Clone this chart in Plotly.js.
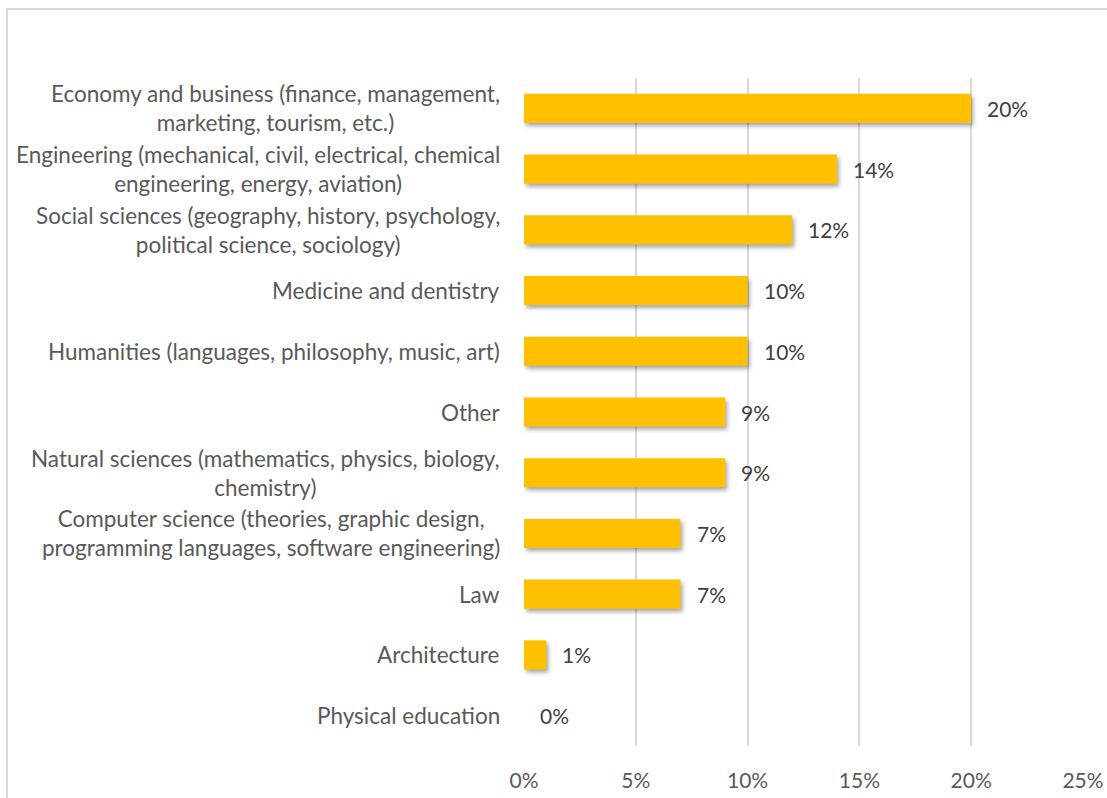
<!DOCTYPE html>
<html>
<head>
<meta charset="utf-8">
<script src="https://cdn.plot.ly/plotly-3.0.1.min.js"></script>
<style>
  html, body { margin: 0; padding: 0; background: #ffffff; }
  #wrap { position: relative; width: 1107px; height: 798px; overflow: hidden; }
  #frame { position: absolute; left: 6px; top: 8px; width: 1200px; height: 900px;
           border-left: 2px solid #d9d9d9; border-top: 2px solid #d9d9d9; }
  #chart { position: absolute; left: 0; top: 0; width: 1107px; height: 798px; }
  .trace.bars path { filter: drop-shadow(2px 3px 2px rgba(0,0,0,0.35)); }
</style>
</head>
<body>
<div id="wrap">
  <div id="frame"></div>
  <div id="chart"></div>
</div>
<script>
// Field of study, shares in percent (top to bottom as drawn)
const categories = [
  "Economy and business (finance, management,<br>marketing, tourism, etc.)",
  "Engineering (mechanical, civil, electrical, chemical<br>engineering, energy, aviation)",
  "Social sciences (geography, history, psychology,<br>political science, sociology)",
  "Medicine and dentistry",
  "Humanities (languages, philosophy, music, art)",
  "Other",
  "Natural sciences (mathematics, physics, biology,<br>chemistry)",
  "Computer science (theories, graphic design,<br>programming languages, software engineering)",
  "Law",
  "Architecture",
  "Physical education"
];
const shares = [20, 14, 12, 10, 10, 9, 9, 7, 7, 1, 0];
const xTickValues = [0, 5, 10, 15, 20, 25];
const xTickLabels = ["0%", "5%", "10%", "15%", "20%", "25%"];

const font = "Lato, 'Open Sans', sans-serif";

const bars = {
  type: "bar",
  orientation: "h",
  y: categories,
  x: shares,
  marker: { color: "#FFC000", line: { width: 0 } },
  hoverinfo: "skip"
};

// category labels: right-aligned blocks with centred lines
const catLabels = categories.map(c => ({
  xref: "paper", yref: "y",
  x: 0, y: c,
  xanchor: "right", yanchor: "middle",
  xshift: -22,
  align: "center",
  showarrow: false,
  text: c,
  font: { family: font, size: 22.5, color: "#595959" }
}));

// value labels beside each bar
const valueLabels = shares.map((v, i) => ({
  xref: "x", yref: "y",
  x: v, y: categories[i],
  xanchor: "left", yanchor: "middle",
  xshift: 14,
  showarrow: false,
  text: v + "%",
  font: { family: font, size: 21, color: "#404040" }
}));

const layout = {
  width: 1107,
  height: 798,
  margin: { l: 524, r: 24, t: 78, b: 52, pad: 0 },
  paper_bgcolor: "rgba(0,0,0,0)",
  plot_bgcolor: "rgba(0,0,0,0)",
  showlegend: false,
  bargap: 0.52,
  font: { family: font, size: 21, color: "#595959" },
  xaxis: {
    range: [0, 25],
    tickvals: xTickValues,
    ticktext: xTickLabels,
    showgrid: true,
    gridcolor: "#d9d9d9",
    gridwidth: 2,
    zeroline: false,
    showline: false,
    ticks: "",
    ticklabelstandoff: 20,
    tickfont: { family: font, size: 21, color: "#595959" },
    fixedrange: true
  },
  yaxis: {
    type: "category",
    autorange: "reversed",
    showticklabels: false,
    showgrid: false,
    zeroline: false,
    showline: false,
    ticks: "",
    fixedrange: true
  },
  annotations: catLabels.concat(valueLabels)
};

Plotly.newPlot("chart", [bars], layout, { displayModeBar: false, staticPlot: true });
</script>
</body>
</html>
